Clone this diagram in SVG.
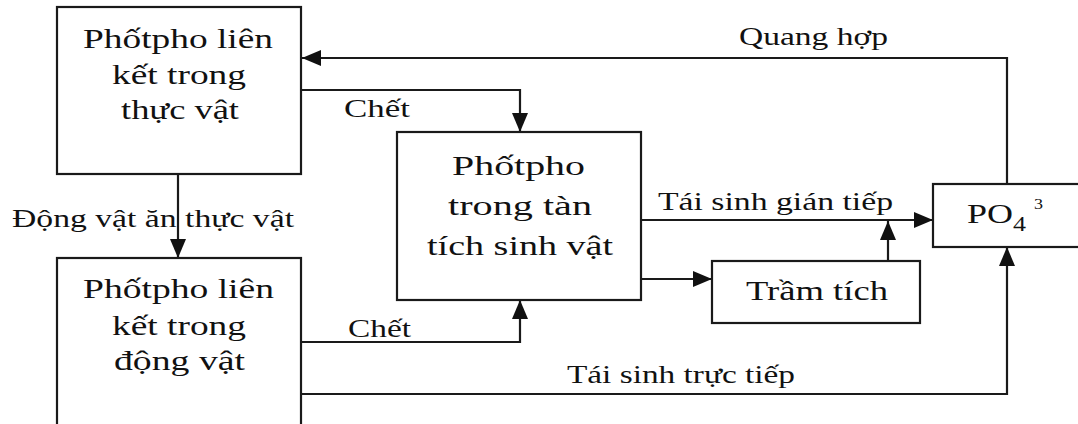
<svg xmlns="http://www.w3.org/2000/svg" width="1078" height="424" viewBox="0 0 1078 424">
<style>
.box{fill:#fff;stroke:#1a1a1a;stroke-width:2.2}
.ln{fill:none;stroke:#1a1a1a;stroke-width:2.2;marker-end:url(#ah)}
text{font-family:"Liberation Serif","Times New Roman",serif;fill:#111}
.bt{font-size:28px}
.lb{font-size:25px}
</style>
<defs>
<marker id="ah" markerUnits="userSpaceOnUse" markerWidth="20" markerHeight="18" refX="19" refY="8" orient="auto">
<path d="M0,0 L19,8 L0,16 z" fill="#111"/>
</marker>
</defs>
<rect width="1078" height="424" fill="#fff"/>
<g id="connectors">
<path class="ln" d="M1007,184 V58 H302"/>
<path class="ln" d="M301,90 H520 V132"/>
<path class="ln" d="M178,174 V258"/>
<path class="ln" d="M301,342 H520 V300"/>
<path class="ln" d="M301,394 H1007 V247"/>
<path class="ln" d="M641,220 H933"/>
<path class="ln" d="M641,279 H712"/>
<path class="ln" d="M888,261 V221"/>
<text class="lb" x="739" y="45" textLength="149" lengthAdjust="spacingAndGlyphs">Quang hợp</text>
<text class="lb" x="344" y="117" textLength="66" lengthAdjust="spacingAndGlyphs">Chết</text>
<text class="lb" x="12" y="227" textLength="282" lengthAdjust="spacingAndGlyphs">Động vật ăn thực vật</text>
<text class="lb" x="348" y="337" textLength="63" lengthAdjust="spacingAndGlyphs">Chết</text>
<text class="lb" x="658" y="210" textLength="235" lengthAdjust="spacingAndGlyphs">Tái sinh gián tiếp</text>
<text class="lb" x="567" y="383" textLength="228" lengthAdjust="spacingAndGlyphs">Tái sinh trực tiếp</text>
</g>
<g id="plant">
<rect class="box" x="57" y="7" width="244" height="167"/>
<text class="bt" x="83" y="48" textLength="190" lengthAdjust="spacingAndGlyphs">Phốtpho liên</text>
<text class="bt" x="112" y="84" textLength="134" lengthAdjust="spacingAndGlyphs">kết trong</text>
<text class="bt" x="121" y="119" textLength="118" lengthAdjust="spacingAndGlyphs">thực vật</text>
</g>
<g id="animal">
<rect class="box" x="57" y="258" width="244" height="180"/>
<text class="bt" x="83" y="298" textLength="191" lengthAdjust="spacingAndGlyphs">Phốtpho liên</text>
<text class="bt" x="112" y="335" textLength="134" lengthAdjust="spacingAndGlyphs">kết trong</text>
<text class="bt" x="114" y="370" textLength="131" lengthAdjust="spacingAndGlyphs">động vật</text>
</g>
<g id="detritus">
<rect class="box" x="397" y="132" width="244" height="168"/>
<text class="bt" x="452" y="175" textLength="133" lengthAdjust="spacingAndGlyphs">Phốtpho</text>
<text class="bt" x="448" y="215" textLength="144" lengthAdjust="spacingAndGlyphs">trong tàn</text>
<text class="bt" x="427" y="255" textLength="186" lengthAdjust="spacingAndGlyphs">tích sinh vật</text>
</g>
<g id="sediment">
<rect class="box" x="712" y="261" width="208" height="62"/>
<text class="bt" x="746" y="300" textLength="142" lengthAdjust="spacingAndGlyphs">Trầm tích</text>
</g>
<g id="po4">
<rect class="box" x="933" y="184" width="160" height="63"/>
<text class="bt" x="967" y="223" textLength="46" lengthAdjust="spacingAndGlyphs">PO</text>
<text x="1013" y="231" font-size="20" textLength="13" lengthAdjust="spacingAndGlyphs">4</text>
<text x="1034" y="209" font-size="15" textLength="9" lengthAdjust="spacingAndGlyphs">3</text>
</g>
</svg>
